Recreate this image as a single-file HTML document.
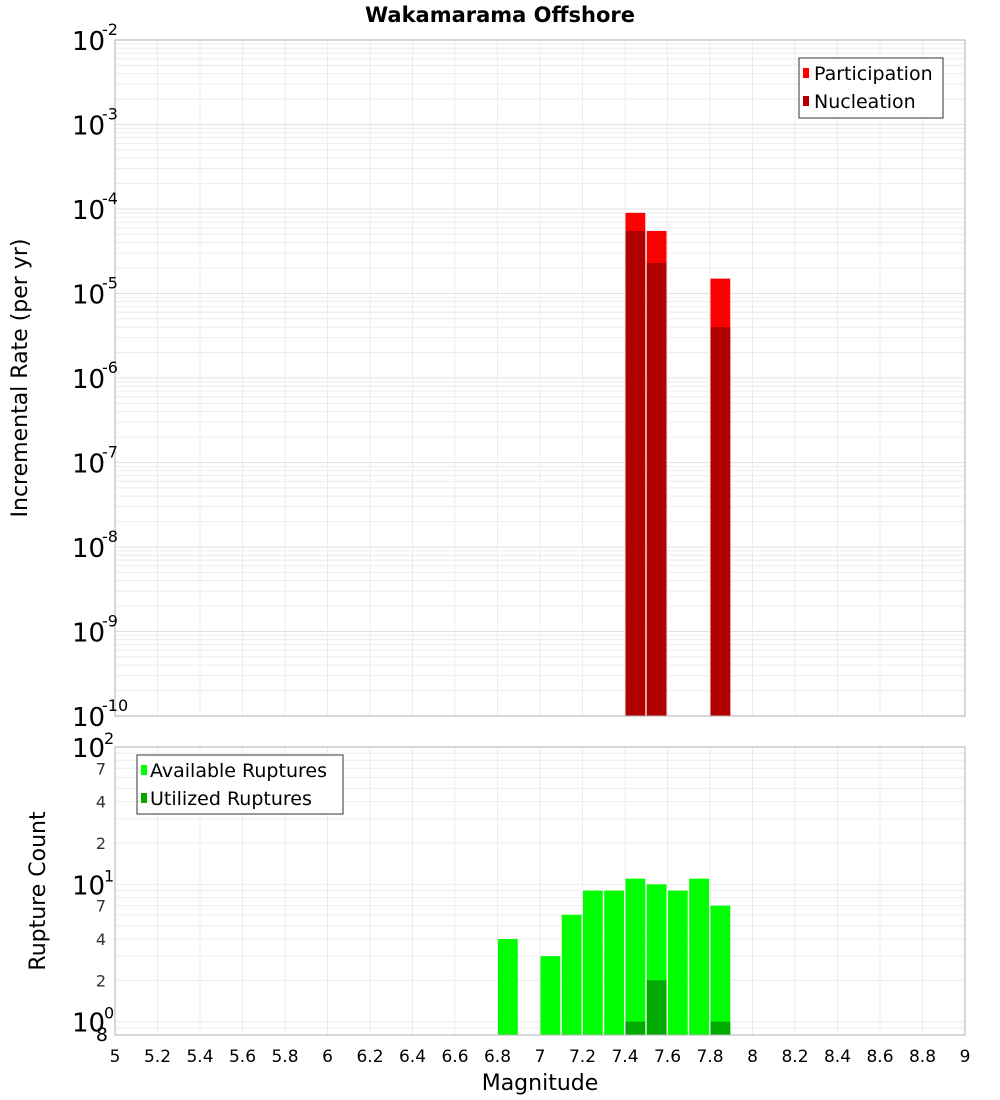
<!DOCTYPE html>
<html><head><meta charset="utf-8"><style>
body{margin:0;background:#fff;}
svg{display:block;font-family:"DejaVu Sans","Liberation Sans",sans-serif;}
</style></head><body>
<svg id="c" width="1000" height="1100" xmlns="http://www.w3.org/2000/svg">
<text x="500" y="22" text-anchor="middle" font-size="21" font-weight="bold">Wakamarama Offshore</text>
<g id="top"></g>
<g id="bot"></g>
<text transform="translate(27,378) rotate(-90)" text-anchor="middle" font-size="22">Incremental Rate (per yr)</text>
<text transform="translate(45,891) rotate(-90)" text-anchor="middle" font-size="22">Rupture Count</text>
<text x="540" y="1090" text-anchor="middle" font-size="22">Magnitude</text>
<g>
<rect x="799" y="58" width="144" height="60" fill="#fff" stroke="#333"/>
<rect x="803" y="68" width="6" height="10" fill="#ff0000"/>
<text x="814" y="80" font-size="19">Participation</text>
<rect x="803" y="96" width="6" height="10" fill="#b00000"/>
<text x="814" y="108" font-size="19">Nucleation</text>
</g>
<g>
<rect x="137" y="755" width="206" height="59" fill="#fff" stroke="#333"/>
<rect x="141" y="765" width="6" height="10" fill="#00ff00"/>
<text x="150" y="777" font-size="19">Available Ruptures</text>
<rect x="141" y="793" width="6" height="10" fill="#00aa00"/>
<text x="150" y="805" font-size="19">Utilized Ruptures</text>
</g>
</svg>
<script>
const magBins=[7.45,7.55,7.85];
const participation=[9.0e-5,5.5e-5,1.5e-5];
const nucleation=[5.5e-5,2.3e-5,4.0e-6];
const countBins=[6.85,7.05,7.15,7.25,7.35,7.45,7.55,7.65,7.75,7.85];
const available=[4,3,6,9,9,11,10,9,11,7];
const utilBins=[7.45,7.55,7.85];
const utilized=[1,2,1];
const xTicks=[5,5.2,5.4,5.6,5.8,6,6.2,6.4,6.6,6.8,7,7.2,7.4,7.6,7.8,8,8.2,8.4,8.6,8.8,9];
const rateDecades=[-10,-9,-8,-7,-6,-5,-4,-3,-2];
const countTicks=[2,4,7,20,40,70];

const NS="http://www.w3.org/2000/svg";
const L=115,R=965;
const X=m=>L+(m-5)/4*(R-L);
const T0=40,T1=716;
const YT=v=>T0+(-2-Math.log10(v))/8*(T1-T0);
const B0=747,B1=1035;
const lo=Math.log10(0.8);
const YB=v=>B0+(2-Math.log10(v))/(2-lo)*(B1-B0);
function mk(p,t,a){const e=document.createElementNS(NS,t);for(const k in a)e.setAttribute(k,a[k]);p.appendChild(e);return e;}
const gTop=document.getElementById('top'),gBot=document.getElementById('bot');
for(const d of rateDecades){for(let k=1;k<10;k++){const v=Math.pow(10,d)*k;if(v>0.0100001)continue;const y=YT(v);
const g=mk(gTop,'line',{x1:L,x2:R,y1:y,y2:y,stroke:k==1?'#e0e0e0':'#ececec','stroke-width':1});

}}
for(let d=-1;d<2;d++){for(let k=1;k<10;k++){const v=Math.pow(10,d)*k;if(v<0.8||v>100)continue;const y=YB(v);
const g=mk(gBot,'line',{x1:L,x2:R,y1:y,y2:y,stroke:'#ececec','stroke-width':1});

}}
for(const m of xTicks){const x=X(m);
const g1=mk(gTop,'line',{x1:x,x2:x,y1:T0,y2:T1,stroke:'#ececec'});


const g2=mk(gBot,'line',{x1:x,x2:x,y1:B0,y2:B1,stroke:'#ececec'});


const t=mk(gBot,'text',{x:x,y:1062,'text-anchor':'middle','font-size':17});t.textContent=String(m);

}
const bw=(R-L)/40;
magBins.forEach((m,i)=>{const x=X(m)-bw/2+0.5;
const p=mk(gTop,'rect',{x:x,y:YT(participation[i]),width:bw-1.5,height:T1-YT(participation[i]),fill:'#ff0000'});


const n=mk(gTop,'rect',{x:x,y:YT(nucleation[i]),width:bw-1.5,height:T1-YT(nucleation[i]),fill:'#b00000'});

});
countBins.forEach((m,i)=>{const x=X(m)-bw/2+0.5;
const b=mk(gBot,'rect',{x:x,y:YB(available[i]),width:bw-1.5,height:B1-YB(available[i]),fill:'#00ff00'});

});
utilBins.forEach((m,i)=>{const x=X(m)-bw/2+0.5;
const b=mk(gBot,'rect',{x:x,y:YB(utilized[i]),width:bw-1.5,height:B1-YB(utilized[i]),fill:'#00aa00'});

});
mk(gTop,'rect',{x:L,y:T0,width:R-L,height:T1-T0,fill:'none',stroke:'#b0b0b0'});
mk(gBot,'rect',{x:L,y:B0,width:R-L,height:B1-B0,fill:'none',stroke:'#b0b0b0'});
for(const d of rateDecades){const y=YT(Math.pow(10,d));
const t=mk(gTop,'text',{x:72,y:y+10,'font-size':26});t.textContent='10';


const s=mk(gTop,'text',{x:102,y:y-5,'font-size':16});s.textContent=String(d);

}
[[100,'2'],[10,'1'],[1,'0']].forEach(([v,e])=>{const y=YB(v);
const t=mk(gBot,'text',{x:72,y:y+10,'font-size':26});t.textContent='10';


const s=mk(gBot,'text',{x:104,y:y-3,'font-size':16});s.textContent=e;

});
for(const v of countTicks){const t=mk(gBot,'text',{x:106,y:YB(v)+6,'font-size':16,'text-anchor':'end',fill:'#333'});t.textContent=String(v>=10?v/10:v);

}
const e8=mk(gBot,'text',{x:108,y:1041,'font-size':19,'text-anchor':'end'});e8.textContent='8';


</script>
</body></html>
